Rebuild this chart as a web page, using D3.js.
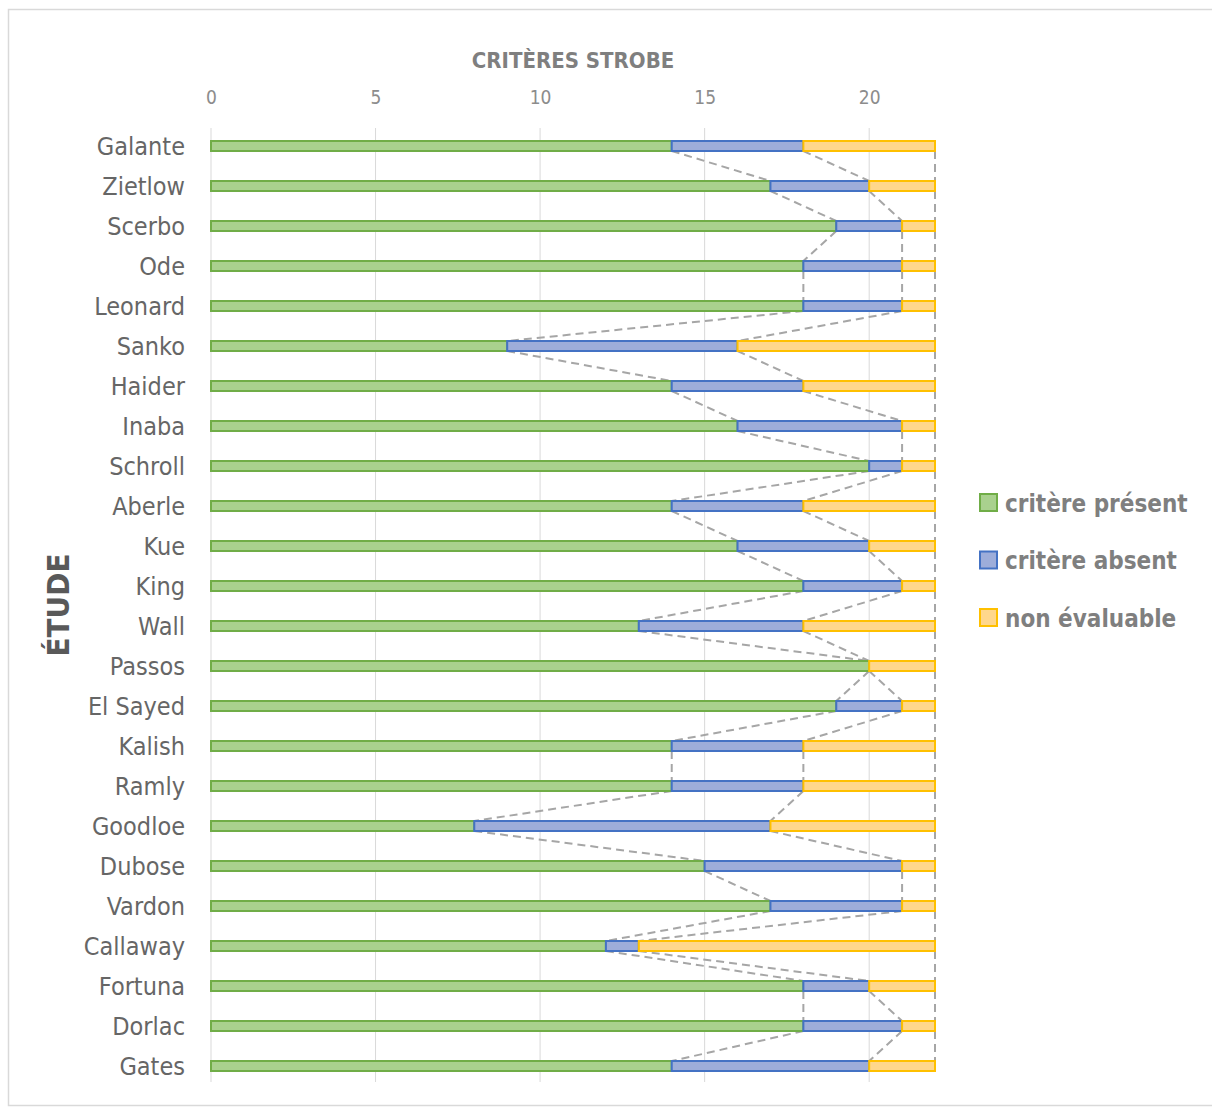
<!DOCTYPE html>
<html>
<head>
<meta charset="utf-8">
<script src="https://cdn.jsdelivr.net/npm/d3@7"></script>
<style>
  body { margin: 0; background: #fff; }
  svg text { font-family: "Liberation Sans Narrow", "DejaVu Sans Condensed", "Open Sans", sans-serif; }
</style>
</head>
<body>
<div id="chart"></div>
<script>
// Données : études et nombre de critères STROBE
const etudes = ["Galante", "Zietlow", "Scerbo", "Ode", "Leonard", "Sanko", "Haider", "Inaba",
  "Schroll", "Aberle", "Kue", "King", "Wall", "Passos", "El Sayed", "Kalish", "Ramly",
  "Goodloe", "Dubose", "Vardon", "Callaway", "Fortuna", "Dorlac", "Gates"];
const present = [14, 17, 19, 18, 18, 9, 14, 16, 20, 14, 16, 18, 13, 20, 19, 14, 14, 8, 15, 17, 12, 18, 18, 14];
const absent = [4, 3, 2, 3, 3, 7, 4, 5, 1, 4, 4, 3, 5, 0, 2, 4, 4, 9, 6, 4, 1, 2, 3, 6];
const nonEval = [4, 2, 1, 1, 1, 6, 4, 1, 1, 4, 2, 1, 4, 2, 1, 4, 4, 5, 1, 1, 9, 2, 1, 2];
const series = ["critère présent", "critère absent", "non évaluable"];
const xTicks = [0, 5, 10, 15, 20];

const fills = ["#a9d18e", "#9dadda", "#ffd78c"];
const strokes = ["#70ad47", "#4472c4", "#ffc000"];

const W = 1212, H = 1107;
const margin = { top: 126, left: 211, right: 277, bottom: 21 };

const svg = d3.select("#chart").append("svg")
  .attr("width", W)
  .attr("height", H);

// cadre du graphique
svg.append("rect")
  .attr("x", 8.5).attr("y", 9.5)
  .attr("width", 1210).attr("height", 1096)
  .attr("fill", "#fff")
  .attr("stroke", "#d9d9d9")
  .attr("stroke-width", 1.5);

const table = etudes.map((e, i) => ({
  etude: e,
  [series[0]]: present[i],
  [series[1]]: absent[i],
  [series[2]]: nonEval[i]
}));

const stacked = d3.stack().keys(series)(table);

const x = d3.scaleLinear()
  .domain([0, 22])
  .range([margin.left, W - margin.right]);

const y = d3.scaleBand()
  .domain(etudes)
  .range([margin.top, H - margin.bottom])
  .paddingInner(0.75)
  .paddingOuter(0.375);

// grille verticale
svg.append("g")
  .selectAll("line")
  .data(xTicks)
  .join("line")
  .attr("x1", d => x(d)).attr("x2", d => x(d))
  .attr("y1", 128).attr("y2", 1082)
  .attr("stroke", "#d9d9d9")
  .attr("stroke-width", 1);

// axe du haut
const xAxis = d3.axisTop(x).tickValues(xTicks).tickSize(0).tickPadding(0);
svg.append("g")
  .attr("transform", "translate(0,104)")
  .call(xAxis)
  .call(g => g.select(".domain").remove())
  .selectAll("text")
  .style("font-size", "19px")
  .attr("fill", "#8c8c8c");

// axe des études
const yAxis = d3.axisLeft(y).tickSize(0).tickPadding(26);
svg.append("g")
  .attr("transform", "translate(" + margin.left + ",0)")
  .call(yAxis)
  .call(g => g.select(".domain").remove())
  .selectAll("text")
  .style("font-size", "25px")
  .attr("dy", "0.36em")
  .attr("fill", "#666666");

// lignes de séries (pointillés)
const bw = y.bandwidth();
stacked.forEach(s => {
  const segs = [];
  for (let i = 0; i < s.length - 1; i++) {
    segs.push([[x(s[i][1]), y(etudes[i]) + bw], [x(s[i + 1][1]), y(etudes[i + 1])]]);
  }
  svg.append("g")
    .selectAll("path")
    .data(segs)
    .join("path")
    .attr("d", d3.line())
    .attr("fill", "none")
    .attr("stroke", "#a6a6a6")
    .attr("stroke-width", 2)
    .attr("stroke-dasharray", "8,5");
});

// barres empilées
svg.append("g")
  .selectAll("g")
  .data(stacked)
  .join("g")
  .attr("fill", (d, i) => fills[i])
  .attr("stroke", (d, i) => strokes[i])
  .attr("stroke-width", 2)
  .selectAll("rect")
  .data(d => d.filter(v => v[1] > v[0]))
  .join("rect")
  .attr("x", d => x(d[0]))
  .attr("y", d => y(d.data.etude))
  .attr("width", d => x(d[1]) - x(d[0]))
  .attr("height", bw);

// titre de l'axe x
svg.append("text")
  .attr("x", (x(0) + x(22)) / 2)
  .attr("y", 68)
  .attr("text-anchor", "middle")
  .style("font-size", "22px")
  .style("font-weight", "bold")
  .attr("fill", "#7f7f7f")
  .text("CRITÈRES STROBE");

// titre de l'axe y
svg.append("text")
  .attr("transform", "translate(69,605) rotate(-90)")
  .attr("text-anchor", "middle")
  .style("font-size", "31px")
  .style("font-weight", "bold")
  .attr("fill", "#595959")
  .text("ÉTUDE");

// légende
const legend = svg.append("g")
  .selectAll("g")
  .data(series)
  .join("g")
  .attr("transform", (d, i) => "translate(980," + (494 + i * 57.5) + ")");

legend.append("rect")
  .attr("width", 17).attr("height", 17)
  .attr("fill", (d, i) => fills[i])
  .attr("stroke", (d, i) => strokes[i])
  .attr("stroke-width", 2);

legend.append("text")
  .attr("x", 25).attr("y", 9)
  .attr("dy", "0.36em")
  .style("font-size", "24px")
  .style("font-weight", "bold")
  .attr("fill", "#7f7f7f")
  .text(d => d);
</script>
</body>
</html>
